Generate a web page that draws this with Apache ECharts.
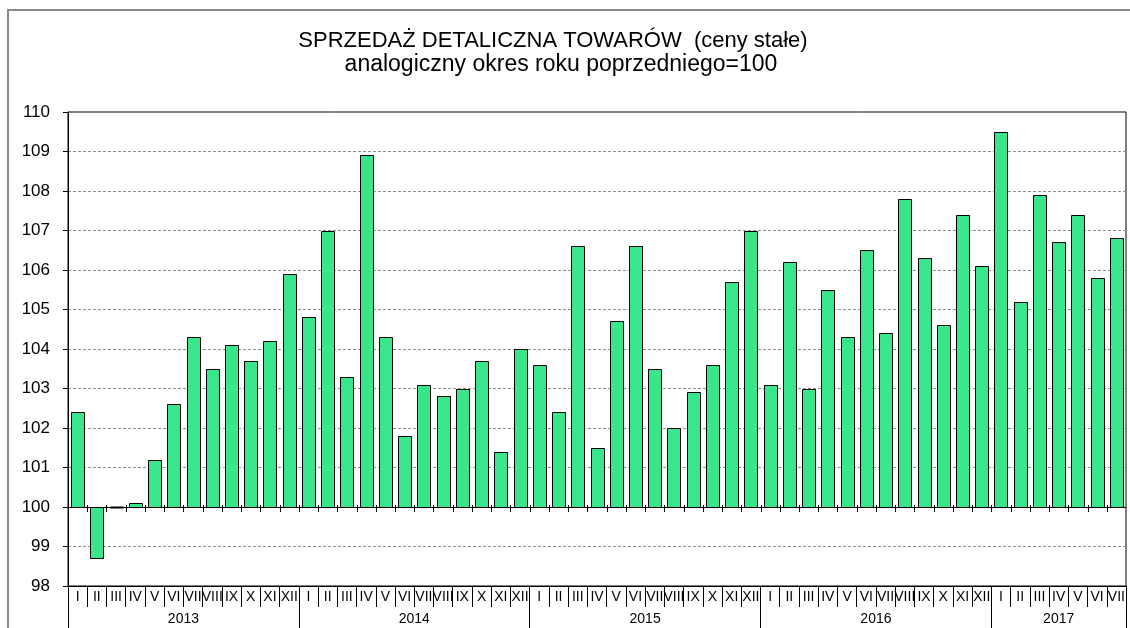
<!DOCTYPE html>
<html>
<head>
<meta charset="utf-8">
<script src="https://cdn.jsdelivr.net/npm/echarts@6/dist/echarts.min.js"></script>
<style>
  html, body { margin: 0; padding: 0; background: #fff; }
  .wrap { position: relative; width: 1130px; height: 628px; }
  #main { width: 1130px; height: 628px; }
  .frame {
    position: absolute; left: 7px; top: 9px; right: 0; bottom: 0;
    border-left: 2px solid #8a8a8a; border-top: 2px solid #8a8a8a;
    pointer-events: none;
  }
</style>
</head>
<body>
<div class="wrap">
  <div id="main"></div>
  <div class="frame"></div>
</div>
<script>
  // dane: analogiczny okres roku poprzedniego = 100
  const monthNames = ['I', 'II', 'III', 'IV', 'V', 'VI', 'VII', 'VIII', 'IX', 'X', 'XI', 'XII'];
  const years = ['2013', '2014', '2015', '2016', '2017'];
  const v2013 = [102.4, 98.7, 100.0, 100.1, 101.2, 102.6, 104.3, 103.5, 104.1, 103.7, 104.2, 105.9];
  const v2014 = [104.8, 107.0, 103.3, 108.9, 104.3, 101.8, 103.1, 102.8, 103.0, 103.7, 101.4, 104.0];
  const v2015 = [103.6, 102.4, 106.6, 101.5, 104.7, 106.6, 103.5, 102.0, 102.9, 103.6, 105.7, 107.0];
  const v2016 = [103.1, 106.2, 103.0, 105.5, 104.3, 106.5, 104.4, 107.8, 106.3, 104.6, 107.4, 106.1];
  const v2017 = [109.5, 105.2, 107.9, 106.7, 107.4, 105.8, 106.8];
  const yTicks = [98, 99, 100, 101, 102, 103, 104, 105, 106, 107, 108, 109, 110];
  const baseValue = 100;

  const perYear = [v2013, v2014, v2015, v2016, v2017];
  let categories = [];
  let barData = [];
  let yearSpans = [];
  let yearStarts = [];
  perYear.forEach((arr, k) => {
    const start = categories.length;
    yearStarts.push(start);
    arr.forEach((v, m) => {
      barData.push([categories.length, v]);
      categories.push(monthNames[m]);
    });
    yearSpans.push([start, categories.length - 1, years[k]]);
  });

  const FONT = '"Liberation Sans", Arial, sans-serif';

  function renderBar(params, api) {
    const i = api.value(0);
    const v = api.value(1);
    const top = api.coord([i, v]);
    const base = api.coord([i, baseValue]);
    const band = api.size([1, 0])[0];
    const w = Math.round(band * 0.66);
    const x = Math.round(base[0] - w / 2) + 0.5;
    const yt = Math.round(top[1]);
    const yb = Math.round(base[1]);
    const tx = Math.round(base[0] - band / 2) + 0.5;
    return {
      type: 'group',
      children: [
        {
          type: 'rect',
          shape: { x: x, y: Math.min(yt, yb) + 0.5, width: w, height: Math.abs(yb - yt) },
          style: { fill: '#39e68b', stroke: '#000', lineWidth: yb === yt ? 2 : 1 }
        },
        {
          type: 'line',
          shape: { x1: tx, y1: yb - 2, x2: tx, y2: yb + 5 },
          style: { stroke: '#000', lineWidth: 1 }
        }
      ]
    };
  }

  function renderYear(params, api) {
    const a = api.coord([api.value(0), yTicks[0]]);
    const b = api.coord([api.value(1), yTicks[0]]);
    return {
      type: 'text',
      x: (a[0] + b[0]) / 2,
      y: a[1] + 33,
      style: {
        text: yearSpans[params.dataIndex][2],
        textAlign: 'center',
        textVerticalAlign: 'middle',
        font: '14px ' + FONT,
        fill: '#000'
      }
    };
  }

  let option = {
    animation: false,
    backgroundColor: 'transparent',
    title: [{
      text: 'SPRZEDAŻ DETALICZNA TOWARÓW  (ceny stałe)',
      left: 548,
      top: 25,
      textAlign: 'center',
      textStyle: { fontFamily: FONT, fontSize: 22, fontWeight: 'normal', color: '#000' }
    }, {
      text: 'analogiczny okres roku poprzedniego=100',
      left: 556,
      top: 48,
      textAlign: 'center',
      textStyle: { fontFamily: FONT, fontSize: 23, fontWeight: 'normal', color: '#000' }
    }],
    grid: {
      left: 68,
      right: 4,
      top: 112,
      bottom: 42,
      show: true,
      borderColor: '#000',
      borderWidth: 1,
      backgroundColor: 'transparent'
    },
    xAxis: [{
      type: 'category',
      data: categories,
      position: 'bottom',
      axisLine: { show: true, onZero: false, lineStyle: { color: '#000', width: 1 } },
      axisTick: { show: true, alignWithLabel: false, interval: 0, length: 21, lineStyle: { color: '#000', width: 1 } },
      axisLabel: { show: true, interval: 0, margin: 4, color: '#000', fontSize: 14, fontFamily: FONT },
      splitLine: { show: false }
    }, {
      type: 'category',
      data: categories,
      position: 'bottom',
      axisLine: { show: false, onZero: false },
      axisTick: {
        show: true,
        alignWithLabel: false,
        interval: (i) => yearStarts.indexOf(i) >= 0,
        length: 43,
        lineStyle: { color: '#000', width: 1 }
      },
      axisLabel: { show: false },
      splitLine: { show: false }
    }],
    yAxis: {
      type: 'value',
      min: yTicks[0],
      max: yTicks[yTicks.length - 1],
      interval: 1,
      axisLine: { show: true, lineStyle: { color: '#000' } },
      axisTick: { show: true, length: 5, lineStyle: { color: '#000' } },
      axisLabel: { color: '#000', fontSize: 17, fontFamily: FONT, margin: 18 },
      splitLine: {
        show: true,
        showMinLine: false,
        showMaxLine: false,
        lineStyle: { color: '#8c8c8c', type: [3, 2], width: 1 }
      }
    },
    series: [{
      type: 'custom',
      name: 'sprzedaż',
      xAxisIndex: 0,
      renderItem: renderBar,
      encode: { x: 0, y: 1 },
      data: barData,
      markLine: {
        silent: true,
        symbol: 'none',
        label: { show: false },
        lineStyle: { color: '#000', type: 'solid', width: 1 },
        data: [{ yAxis: baseValue }]
      }
    }, {
      type: 'custom',
      name: 'lata',
      xAxisIndex: 0,
      renderItem: renderYear,
      encode: { x: 0 },
      data: yearSpans.map(s => [s[0], s[1]]),
      clip: false,
      silent: true
    }]
  };

  const myChart = echarts.init(document.getElementById('main'));
  myChart.setOption(option);
</script>
</body>
</html>
